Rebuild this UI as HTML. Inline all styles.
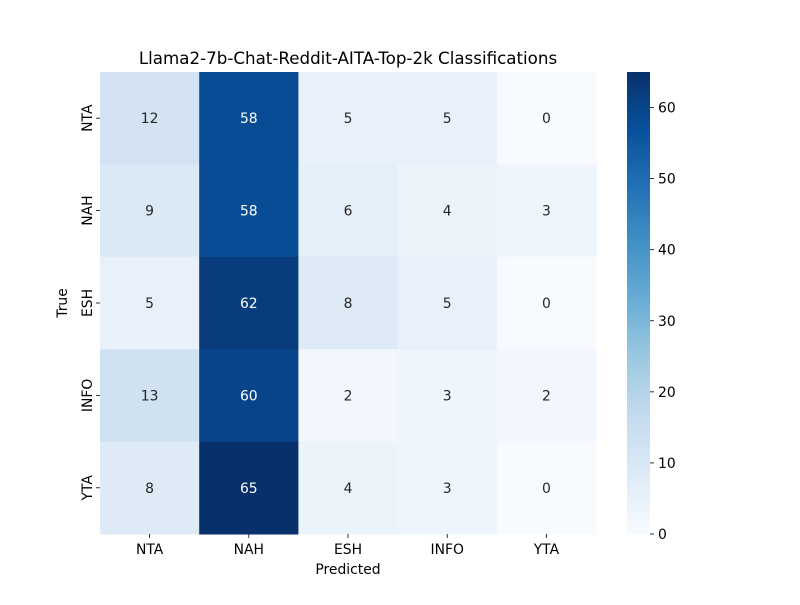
<!DOCTYPE html>
<html><head><meta charset="utf-8"><style>
body{margin:0;background:#fff;}
svg text{font-family:"DejaVu Sans","Liberation Sans",sans-serif;}
</style></head><body>
<svg id="chart" width="800" height="600" xmlns="http://www.w3.org/2000/svg">
<rect width="800" height="600" fill="#fff"/>
<text x="348" y="64" font-size="16.7" text-anchor="middle" fill="#000">Llama2-7b-Chat-Reddit-AITA-Top-2k Classifications</text>
<g id="cells"></g>
<g id="xticks"></g>
<g id="yticks"></g>
<text x="348" y="574" font-size="13.9" text-anchor="middle">Predicted</text>
<text transform="translate(67,303) rotate(-90)" font-size="13.9" text-anchor="middle">True</text>
<defs><linearGradient id="blues" x1="0" y1="1" x2="0" y2="0"></linearGradient></defs>
<rect x="627" y="72" width="23" height="462" fill="url(#blues)"/>
<g id="cbticks"></g>
</svg>
<script>
const categories = ["NTA","NAH","ESH","INFO","YTA"];
const rowNTA = [12,58,5,5,0];
const rowNAH = [9,58,6,4,3];
const rowESH = [5,62,8,5,0];
const rowINFO = [13,60,2,3,2];
const rowYTA = [8,65,4,3,0];
const matrix = [rowNTA,rowNAH,rowESH,rowINFO,rowYTA];
const cbTicks = [0,10,20,30,40,50,60];
const vmin = 0, vmax = 65;

const NS="http://www.w3.org/2000/svg";
const X0=100,X1=596,Y0=72,Y1=534;
const cw=(X1-X0)/categories.length, ch=(Y1-Y0)/categories.length;
const stops=[[247,251,255],[222,235,247],[198,219,239],[158,202,225],[107,174,214],[66,146,198],[33,113,181],[8,81,156],[8,48,107]];
function blues(t){t=Math.max(0,Math.min(1,t));const p=t*8,i=Math.min(7,Math.floor(p)),f=p-i;
 const c=stops[i].map((v,k)=>Math.round(v+(stops[i+1][k]-v)*f));return c;}
function mk(tag,attrs,parent){const e=document.createElementNS(NS,tag);for(const k in attrs)e.setAttribute(k,attrs[k]);parent.appendChild(e);return e;}
const cells=document.getElementById('cells');
matrix.forEach((row,r)=>row.forEach((v,c)=>{
 const col=blues((v-vmin)/(vmax-vmin));
 const rect=mk('rect',{x:X0+c*cw,y:Y0+r*ch,width:cw+0.5,height:ch+0.5,fill:`rgb(${col})`},cells);
 
 
 const lum=(0.2126*col[0]+0.7152*col[1]+0.0722*col[2])/255;
 const t=mk('text',{x:X0+(c+0.5)*cw,y:Y0+(r+0.5)*ch+5,'font-size':13.9,'text-anchor':'middle',fill:lum>0.408?'#262626':'#fff'},cells);
 
 
 t.textContent=v;
}));
const xt=document.getElementById('xticks'),yt=document.getElementById('yticks');
categories.forEach((cat,i)=>{
 const x=X0+(i+0.5)*cw;
 mk('line',{x1:x,x2:x,y1:Y1,y2:Y1+4,stroke:'#000','stroke-width':0.8},xt);
 const t=mk('text',{x:x,y:Y1+20,'font-size':13.9,'text-anchor':'middle'},xt);
 
 
 t.textContent=cat;
 const y=Y0+(i+0.5)*ch;
 mk('line',{x1:X0-4,x2:X0,y1:y,y2:y,stroke:'#000','stroke-width':0.8},yt);
 const t2=mk('text',{transform:`translate(${X0-8},${y}) rotate(-90)`,'font-size':13.9,'text-anchor':'middle'},yt);
 
 
 t2.textContent=cat;
});
const g=document.getElementById('blues');
for(let i=0;i<=16;i++){const c=blues(i/16);mk('stop',{offset:(i/16*100)+'%','stop-color':`rgb(${c})`},g);}
const cb=document.getElementById('cbticks');
cbTicks.forEach(v=>{
 const y=Y1-(v-vmin)/(vmax-vmin)*(Y1-Y0);
 mk('line',{x1:650,x2:654,y1:y,y2:y,stroke:'#000','stroke-width':0.8},cb);
 const t=mk('text',{x:658,y:y+5,'font-size':13.9},cb);
 
 
 t.textContent=v;
});
</script>
</body></html>
